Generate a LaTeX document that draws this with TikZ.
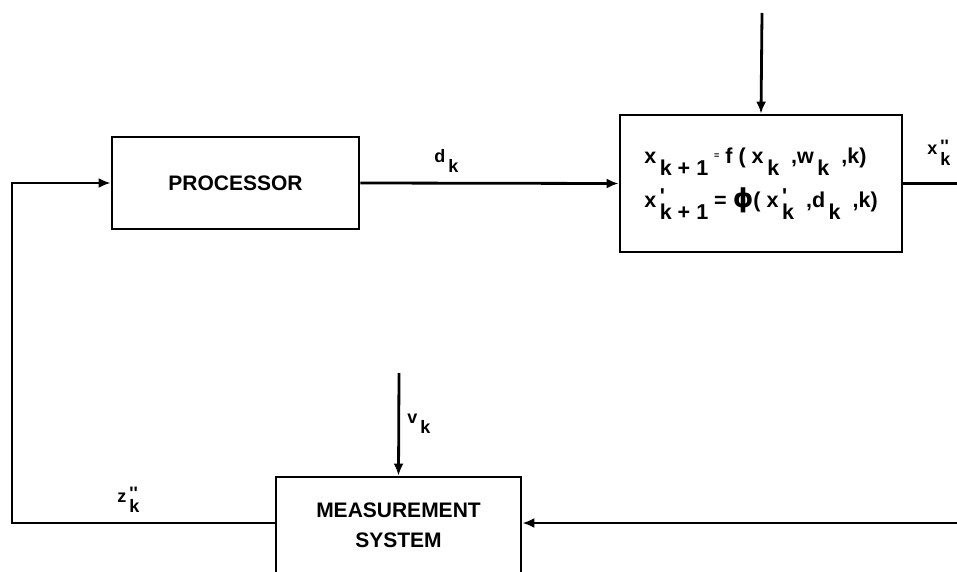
\documentclass[tikz,border=0pt]{standalone}
\usepackage{fontspec}
\setmainfont{Liberation Sans}
\newfontfamily\phifont{DejaVu Sans}
\usetikzlibrary{arrows.meta}

% lowered index, and a mark over a lowered index
\newcommand{\lo}[1]{\,\raisebox{-1.1ex}{#1}}
\newcommand{\hi}[2]{\,\rlap{\raisebox{0.3ex}{#1}}\raisebox{-1.1ex}{#2}}
\newcommand{\tick}{\textquotesingle}

\begin{document}
\begin{tikzpicture}[x=1pt,y=-1pt,line width=2.8pt,
    blok/.style={draw, rectangle, inner sep=0pt, font=\bfseries\fontsize{21}{30}\selectfont},
    sig/.style={-{Latex[length=12pt,width=10pt]}},
    lbl/.style={inner sep=0pt, anchor=base west, font=\bfseries\fontsize{18}{20}\selectfont}]

  \useasboundingbox (0,0) rectangle (957,572);
  \clip (0,0) rectangle (957,572);

  \coordinate (W)  at (762,13);
  \coordinate (V)  at (399,373);
  \coordinate (XR) at (957,183.5);
  \coordinate (ZR) at (957,523);
  \coordinate (BL) at (12,523);
  \coordinate (TL) at (12,183);

  \node (proc) [blok, minimum width=247, minimum height=92] at (235.5,183) {PROCESSOR};
  \node (sys) [blok, minimum width=282, minimum height=137, align=left,
    font=\bfseries\fontsize{21.5}{44}\selectfont] at (761,183.5)
    {x\lo{k + 1} \raisebox{0.4ex}{\small =} f ( x\lo{k} \ ,w\lo{k} \ ,k)\\
     x\hi{\tick}{k + 1} = {\phifont\fontsize{26}{26}\selectfont ϕ}( x\hi{\tick}{k} \ ,d\lo{k} \ ,k)};
  \node (meas) [blok, minimum width=245, minimum height=96, align=center] at (398.5,525)
    {MEASUREMENT\\SYSTEM};

  \node (dk) [lbl] at (433,162) {d\lo{k}};
  \node (xk) [lbl] at (926,155) {x\hi{\tick\tick}{k}};
  \node (zk) [lbl] at (116,502) {z\hi{\tick\tick}{k}};
  \node (vk) [lbl] at (406,423) {v\lo{k}};

  \draw[sig] (W) -- (sys.north);
  \draw[sig] (proc.east) -- (sys.west);
  \draw (sys.east) -- (XR);
  \draw[sig] (ZR) -- (meas.east |- ZR);
  \draw[sig] (V) -- (meas.north);
  \draw[sig] (meas.west |- BL) -- (BL) -- (TL) -- (proc.west);

\end{tikzpicture}
\end{document}
